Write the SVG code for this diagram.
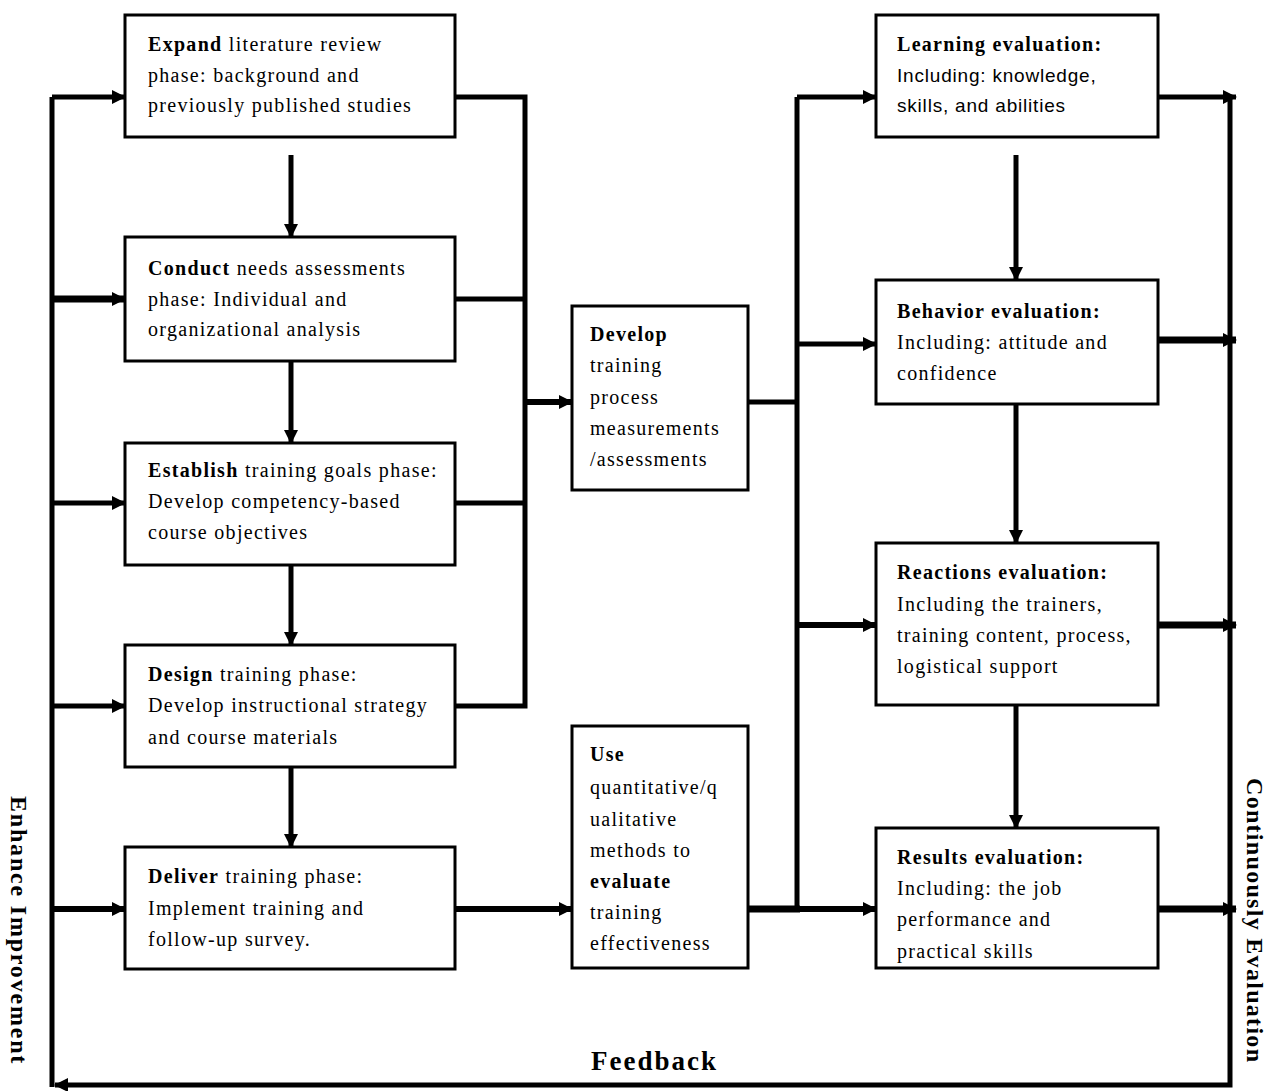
<svg xmlns="http://www.w3.org/2000/svg" width="1268" height="1091" viewBox="0 0 1268 1091">
<style>
.box{fill:#fff;stroke:#000;stroke-width:3}
.t{font-family:"Liberation Serif","Times New Roman",serif;font-size:20px;letter-spacing:1.3px;fill:#000}
.s{font-family:"Liberation Sans",Arial,sans-serif;font-size:19px;letter-spacing:0.8px;fill:#000}
.b{font-weight:bold}
.c{fill:none;stroke:#000;stroke-width:5;stroke-linecap:butt;stroke-linejoin:miter}
.lab{font-family:"Liberation Serif","Times New Roman",serif;font-weight:bold;fill:#000}
</style>
<defs>
<marker id="ah" markerUnits="userSpaceOnUse" markerWidth="14" markerHeight="14" viewBox="0 0 14 14" refX="13" refY="7" orient="auto">
<path d="M0,0 L14,7 L0,14 Z" fill="#000"/>
</marker>
</defs>
<rect width="1268" height="1091" fill="#fff"/>
<g id="connectors">
<path class="c" d="M52,97 V1087"/>
<path class="c" d="M52,97 H125" marker-end="url(#ah)"/>
<path class="c" style="stroke-width:7" d="M52,299 H125" marker-end="url(#ah)"/>
<path class="c" d="M52,503 H125" marker-end="url(#ah)"/>
<path class="c" d="M52,706 H125" marker-end="url(#ah)"/>
<path class="c" style="stroke-width:6" d="M52,909 H125" marker-end="url(#ah)"/>
<path class="c" d="M291,155 V237" marker-end="url(#ah)"/>
<path class="c" d="M291,361 V443" marker-end="url(#ah)"/>
<path class="c" d="M291,565 V645" marker-end="url(#ah)"/>
<path class="c" d="M291,767 V847" marker-end="url(#ah)"/>
<path class="c" d="M455,97 H525 V706 H455"/>
<path class="c" d="M455,299 H525"/>
<path class="c" d="M455,503 H525"/>
<path class="c" style="stroke-width:6" d="M525,402 H572" marker-end="url(#ah)"/>
<path class="c" style="stroke-width:6" d="M455,909 H572" marker-end="url(#ah)"/>
<path class="c" d="M748,402 H797"/>
<path class="c" style="stroke-width:7" d="M748,909 H800"/>
<path class="c" d="M797,97 V909"/>
<path class="c" d="M797,97 H876" marker-end="url(#ah)"/>
<path class="c" d="M797,344 H876" marker-end="url(#ah)"/>
<path class="c" style="stroke-width:6" d="M797,625 H876" marker-end="url(#ah)"/>
<path class="c" style="stroke-width:6" d="M797,909 H876" marker-end="url(#ah)"/>
<path class="c" d="M1016,155 V280" marker-end="url(#ah)"/>
<path class="c" d="M1016,404 V543" marker-end="url(#ah)"/>
<path class="c" d="M1016,705 V828" marker-end="url(#ah)"/>
<path class="c" d="M1230,97 V1085 H55" marker-end="url(#ah)"/>
<path class="c" d="M1158,97 H1236" marker-end="url(#ah)"/>
<path class="c" style="stroke-width:7" d="M1158,340 H1236" marker-end="url(#ah)"/>
<path class="c" style="stroke-width:7" d="M1158,625 H1236" marker-end="url(#ah)"/>
<path class="c" style="stroke-width:7" d="M1158,909 H1236" marker-end="url(#ah)"/>
</g>
<g id="expand">
<rect class="box" x="125" y="15" width="330" height="122"/>
<text class="t" x="148" y="51"><tspan class="b">Expand</tspan> literature review</text>
<text class="t" x="148" y="82">phase: background and</text>
<text class="t" x="148" y="112">previously published studies</text>
</g>
<g id="conduct">
<rect class="box" x="125" y="237" width="330" height="124"/>
<text class="t" x="148" y="275"><tspan class="b">Conduct</tspan> needs assessments</text>
<text class="t" x="148" y="306">phase: Individual and</text>
<text class="t" x="148" y="336">organizational analysis</text>
</g>
<g id="establish">
<rect class="box" x="125" y="443" width="330" height="122"/>
<text class="t" x="148" y="477"><tspan class="b">Establish</tspan> training goals phase:</text>
<text class="t" x="148" y="508">Develop competency-based</text>
<text class="t" x="148" y="539">course objectives</text>
</g>
<g id="design">
<rect class="box" x="125" y="645" width="330" height="122"/>
<text class="t" x="148" y="681"><tspan class="b">Design</tspan> training phase:</text>
<text class="t" x="148" y="712">Develop instructional strategy</text>
<text class="t" x="148" y="744">and course materials</text>
</g>
<g id="deliver">
<rect class="box" x="125" y="847" width="330" height="122"/>
<text class="t" x="148" y="883"><tspan class="b">Deliver</tspan> training phase:</text>
<text class="t" x="148" y="915">Implement training and</text>
<text class="t" x="148" y="946">follow-up survey.</text>
</g>
<g id="develop-measure">
<rect class="box" x="572" y="306" width="176" height="184"/>
<text class="t b" x="590" y="341">Develop</text>
<text class="t" x="590" y="372">training</text>
<text class="t" x="590" y="404">process</text>
<text class="t" x="590" y="435">measurements</text>
<text class="t" x="590" y="466">/assessments</text>
</g>
<g id="use-methods">
<rect class="box" x="572" y="726" width="176" height="242"/>
<text class="t b" x="590" y="761">Use</text>
<text class="t" x="590" y="794">quantitative/q</text>
<text class="t" x="590" y="826">ualitative</text>
<text class="t" x="590" y="857">methods to</text>
<text class="t b" x="590" y="888">evaluate</text>
<text class="t" x="590" y="919">training</text>
<text class="t" x="590" y="950">effectiveness</text>
</g>
<g id="learning">
<rect class="box" x="876" y="15" width="282" height="122"/>
<text class="t b" x="897" y="51">Learning evaluation:</text>
<text class="s" x="897" y="82">Including: knowledge,</text>
<text class="s" x="897" y="112">skills, and abilities</text>
</g>
<g id="behavior">
<rect class="box" x="876" y="280" width="282" height="124"/>
<text class="t b" x="897" y="318">Behavior evaluation:</text>
<text class="t" x="897" y="349">Including: attitude and</text>
<text class="t" x="897" y="380">confidence</text>
</g>
<g id="reactions">
<rect class="box" x="876" y="543" width="282" height="162"/>
<text class="t b" x="897" y="579">Reactions evaluation:</text>
<text class="t" x="897" y="611">Including the trainers,</text>
<text class="t" x="897" y="642">training content, process,</text>
<text class="t" x="897" y="673">logistical support</text>
</g>
<g id="results">
<rect class="box" x="876" y="828" width="282" height="140"/>
<text class="t b" x="897" y="864">Results evaluation:</text>
<text class="t" x="897" y="895">Including: the job</text>
<text class="t" x="897" y="926">performance and</text>
<text class="t" x="897" y="958">practical skills</text>
</g>
<g id="labels">
<text class="lab" font-size="24" letter-spacing="1.8" transform="translate(11,796) rotate(90)">Enhance Improvement</text>
<text class="lab" font-size="24" letter-spacing="1.3" transform="translate(1247,778) rotate(90)">Continuously Evaluation</text>
<text class="lab" font-size="27" letter-spacing="2" x="591" y="1070">Feedback</text>
</g>
</svg>
